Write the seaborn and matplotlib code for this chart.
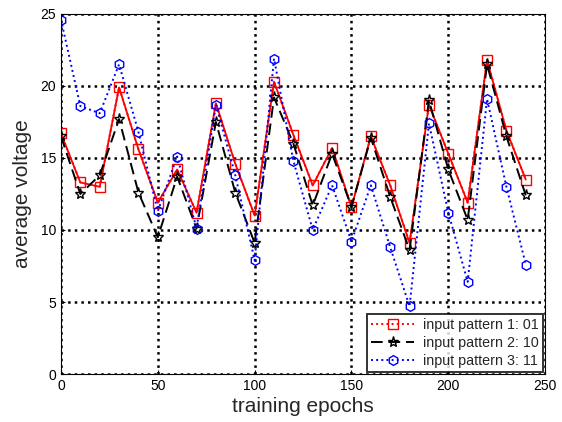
import matplotlib
matplotlib.use("Agg")
import matplotlib.pyplot as plt
import numpy as np
import pandas as pd
import seaborn as sns

# ---------------------------------------------------------------------------
# DATA
# ---------------------------------------------------------------------------
EPOCHS = list(range(0, 250, 10))

PATTERN_01 = [16.7, 13.3, 13.0, 19.9, 15.6, 11.9, 14.2, 11.2, 18.8, 14.6,
              11.0, 20.3, 16.6, 13.1, 15.7, 11.6, 16.5, 13.1, 9.1, 18.7,
              15.3, 11.9, 21.8, 16.9, 13.5]
PATTERN_10 = [16.5, 12.5, 13.8, 17.7, 12.6, 9.5, 13.7, 10.1, 17.5, 12.6,
              9.1, 19.2, 16.0, 11.7, 15.3, 11.6, 16.4, 12.3, 8.6, 19.0,
              14.2, 10.7, 21.5, 16.5, 12.4]
PATTERN_11 = [24.6, 18.6, 18.1, 21.5, 16.8, 11.3, 15.1, 10.1, 18.7, 13.8,
              7.9, 21.9, 14.8, 10.0, 13.1, 9.2, 13.1, 8.8, 4.7, 17.4,
              11.2, 6.4, 19.1, 13.0, 7.6]

LABELS = ["input pattern 1: 01", "input pattern 2: 10", "input pattern 3: 11"]

# ---------------------------------------------------------------------------
# PLOT
# ---------------------------------------------------------------------------
sns.set_style("white")
plt.rcParams["font.family"] = ["Liberation Sans", "DejaVu Sans"]

df = pd.DataFrame({
    "epoch": EPOCHS * 3,
    "voltage": PATTERN_01 + PATTERN_10 + PATTERN_11,
    "series": np.repeat(LABELS, len(EPOCHS)),
})

fig = plt.figure(figsize=(5.62, 4.22), dpi=100)
ax = fig.add_axes([0.1085, 0.1137, 0.8615, 0.8533])

styles = {
    LABELS[0]: dict(color="red", linestyle=":", marker="s", markersize=7),
    LABELS[1]: dict(color="black", linestyle=(0, (6, 3)), marker="*", markersize=8),
    LABELS[2]: dict(color="blue", linestyle=":", marker="h", markersize=7),
}

# red trace is drawn solid in the axes, dotted only in the legend
d1 = df[df["series"] == LABELS[0]]
sns.lineplot(data=d1, x="epoch", y="voltage", ax=ax, color="red",
             linewidth=1.3, sort=False, legend=False)

for lab in LABELS:
    sub = df[df["series"] == lab]
    st = styles[lab]
    sns.lineplot(data=sub, x="epoch", y="voltage", ax=ax, label=lab,
                 color=st["color"], linestyle=st["linestyle"],
                 marker=st["marker"], markersize=st["markersize"],
                 markerfacecolor="none", markeredgecolor=st["color"],
                 markeredgewidth=1.0, linewidth=1.4, sort=False)

ax.set_xlim(0, 250)
ax.set_ylim(0, 25)
ax.set_xticks(range(0, 251, 50))
ax.set_yticks(range(0, 26, 5))
ax.grid(True, color="black", linestyle=":", linewidth=1.8)
ax.set_axisbelow(True)
for sp in ax.spines.values():
    sp.set_color("black")
    sp.set_linewidth(0.8)
ax.tick_params(direction="in", length=3, labelsize=10, colors="black",
               left=True, bottom=True)
ax.set_xlabel("training epochs", fontsize=15, labelpad=3)
ax.set_ylabel("average voltage", fontsize=15, labelpad=6)

leg = ax.legend(loc="lower right", fontsize=10.3, frameon=True, fancybox=False,
                borderaxespad=0.15, handlelength=3.0, borderpad=0.3,
                labelspacing=0.25, handletextpad=0.6)
leg.get_frame().set_edgecolor("black")
leg.get_frame().set_linewidth(1.4)

fig.savefig("out.png", dpi=100)
